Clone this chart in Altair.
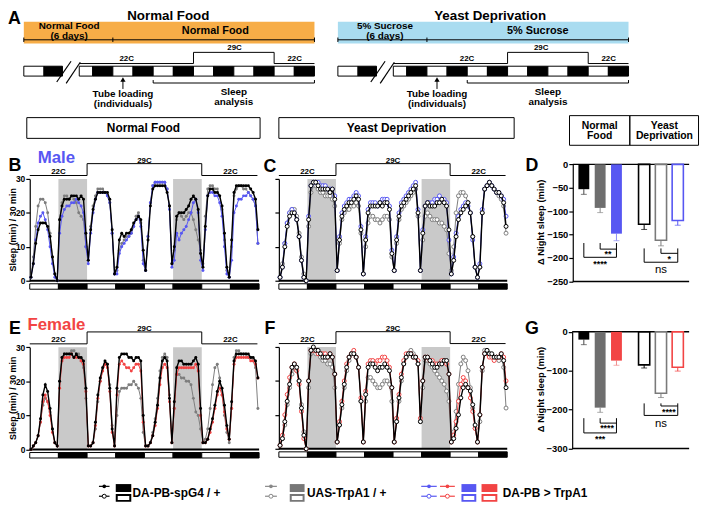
import altair as alt
import pandas as pd

M = 8  # page margin of the html page
FONT = "Liberation Sans"

# ---------------------------------------------------------------- data
GENOTYPES = ["DA-PB-spG4 / +", "UAS-TrpA1 / +", "DA-PB > TrpA1"]
CONDITIONS = ["Normal Food", "Yeast Deprivation"]
HOURS = [h + 0.5 for h in range(96)]            # 4 days, hourly bins (ZT)
LD_PHASES = [(12 * k, 12 * k + 12, "light" if k % 2 == 0 else "dark") for k in range(8)]
SHADED_NIGHTS = [(12, 24), (60, 72)]
TEMP_PROFILE = [(0, 22), (24, 29), (72, 22), (95.3, 22)]
TEMP_LABELS = [(12, 22), (48, 29), (84, 22)]

# sleep (min / 30 min), male, normal food (B)
B_CTRL = [1,5,11,15,17,17,17,16,13,7,2,0, 18,22,24,24,24,25,25,25,24,25,24,14,
          6,15,21,24,26,26,26,26,26,24,15,2, 4,12,14,13,14,14,15,17,18,19,18,9,
          3,12,22,27,28,28,28,28,28,26,22,5, 10,19,20,20,20,21,22,24,25,24,21,8,
          4,16,25,27,27,26,26,25,22,14,4,1, 12,26,28,28,28,28,28,28,27,26,24,15]
B_UAS = [1,7,16,22,24,24,23,20,14,7,2,0, 18,23,25,25,24,25,24,23,20,19,18,10,
         6,16,22,25,27,27,27,26,25,23,14,2, 3,9,11,12,13,13,14,16,19,20,17,6,
         3,13,23,28,29,29,29,29,29,27,22,5, 9,18,20,19,18,19,20,20,18,15,12,9,
         5,19,27,28,28,27,27,25,21,12,3,1, 10,25,27,28,28,27,27,26,25,24,22,11]
B_EXP = [1,5,12,17,19,20,18,15,10,5,1,0, 14,19,21,22,22,23,23,24,23,22,20,10,
         5,14,20,24,26,26,26,26,25,23,14,2, 2,8,10,11,12,13,14,16,18,19,16,5,
         3,13,23,28,29,29,29,29,29,27,21,4, 6,14,12,14,15,16,18,20,23,24,20,6,
         3,15,25,26,26,25,25,23,19,10,2,1, 6,20,22,24,24,25,25,26,25,24,22,11]
# male, yeast deprivation (C)
C_CTRL = [1,4,10,16,19,20,20,18,13,6,1,0, 18,28,29,29,28,27,27,27,27,26,27,24,
          3,12,19,21,22,23,23,24,25,24,15,2, 12,20,22,22,22,22,23,22,23,23,21,8,
          3,12,19,22,23,24,25,26,27,28,20,3, 14,22,23,22,22,22,23,23,24,23,22,15,
          2,6,13,18,20,21,22,23,20,13,4,1, 4,20,27,28,29,28,27,26,26,25,23,16]
C_UAS = [1,5,11,17,20,21,21,19,14,7,2,0, 16,26,28,28,27,26,26,25,25,25,24,22,
         3,11,18,20,21,21,22,22,23,22,14,2, 10,17,19,19,18,18,17,18,19,19,18,7,
         3,11,18,21,22,23,24,25,26,27,19,3, 12,19,20,19,18,18,18,17,17,16,15,8,
         3,10,20,25,26,26,25,23,20,13,4,1, 4,20,27,28,29,28,27,26,25,24,22,14]
C_EXP = [1,4,11,17,20,21,20,18,13,6,1,0, 19,28,29,29,29,28,28,28,27,27,27,25,
         3,13,20,22,23,24,24,25,26,25,16,2, 13,21,23,23,23,22,23,24,24,24,22,9,
         3,13,20,23,24,25,26,27,28,29,21,3, 15,22,23,23,23,24,24,25,24,24,23,12,
         2,7,14,19,21,22,23,22,20,12,4,1, 5,21,27,28,29,28,27,26,26,25,24,19]
# female, normal food (E)
E_CTRL = [0,1,2,4,9,16,19,17,12,6,2,1, 20,27,28,28,28,28,27,28,27,27,26,18,
          1,1,2,8,16,21,24,26,25,18,6,1, 18,27,28,28,28,27,27,26,27,27,26,10,
          1,1,2,4,8,13,21,26,27,26,15,2, 14,24,26,26,25,25,25,25,26,27,25,12,
          2,2,3,6,9,13,17,20,18,13,7,3, 14,26,28,28,28,28,28,28,27,27,26,21]
E_UAS = [0,1,2,4,8,13,15,14,11,6,2,1, 20,27,28,28,28,29,29,28,28,26,24,15,
         1,1,2,6,14,20,23,25,25,19,7,1, 10,17,18,18,18,19,19,20,19,18,15,5,
         1,1,2,5,9,15,23,27,28,27,16,2, 12,22,22,21,21,20,20,19,15,11,10,6,
         2,3,6,12,19,24,25,21,16,10,5,2, 12,27,29,29,28,28,28,27,27,26,24,12]
E_EXP = [0,1,2,4,8,14,16,14,10,5,2,1, 18,26,27,27,27,28,27,27,27,26,25,17,
         1,1,2,7,15,20,23,25,24,17,5,1, 16,25,26,25,24,24,23,24,25,25,23,8,
         1,1,2,4,7,12,19,24,25,24,14,2, 12,22,24,24,24,24,24,24,24,25,23,10,
         2,2,3,5,8,12,16,18,16,11,6,3, 12,25,27,27,27,27,27,27,26,26,25,21]
# female, yeast deprivation (F)
F_CTRL = [1,3,8,14,19,24,25,24,20,12,4,0, 20,29,30,29,29,28,27,27,27,28,27,22,
          2,7,13,19,24,27,28,28,27,24,14,2, 16,24,25,25,24,23,24,24,25,24,23,18,
          2,8,15,21,25,27,28,28,27,27,25,8, 20,27,27,26,25,24,24,25,25,26,26,22,
          2,3,6,10,15,18,19,18,17,13,7,2, 10,24,28,29,28,28,27,27,27,28,26,18]
F_UAS = [1,3,7,13,18,22,24,23,20,13,5,0, 18,28,29,28,28,27,26,26,25,25,24,18,
         2,7,12,18,23,26,28,28,27,24,14,2, 14,21,21,20,19,18,18,19,20,20,19,14,
         2,8,14,20,25,27,28,29,28,27,25,8, 18,26,26,25,24,23,22,21,20,19,17,14,
         2,5,11,19,25,27,26,23,18,12,6,2, 8,23,29,29,28,27,27,27,26,27,24,12]
F_EXP = [1,4,10,16,21,24,25,23,19,11,3,0, 20,29,29,29,28,28,28,28,27,28,27,22,
         2,8,14,20,25,27,28,29,27,24,15,2, 17,25,26,26,25,26,26,27,27,26,24,18,
         2,9,16,22,26,28,28,28,27,27,26,9, 20,27,27,26,26,25,25,25,26,26,25,22,
         2,4,8,14,19,21,20,18,15,11,6,2, 10,24,28,28,27,27,26,27,27,28,27,20]

# delta night sleep (min): mean and SEM per genotype
D_NF_MEAN = [-53, -93, -148]
D_NF_SEM = [11, 10, 15]
D_YD_MEAN = [-128, -162, -120]
D_YD_SEM = [11, 12, 10]
G_NF_MEAN = [-20, -195, -74]
G_NF_SEM = [13, 12, 12]
G_YD_MEAN = [-85, -158, -91]
G_YD_SEM = [8, 11, 10]
D_SIG = {"nf": ("****", "**"), "yd": ("ns", "*")}
G_SIG = {"nf": ("***", "****"), "yd": ("ns", "****")}

# ---------------------------------------------------------------- styles
C_BLACK = "#000000"
C_GRAY = "#6e6e6e"
C_GRAY_LINE = "#7d7d7d"
C_BLUE = "#5757f2"
C_RED = "#f24444"
C_SHADE = "#c9c9c9"
C_ORANGE = "#f7ad47"
C_SKY = "#a9dcf0"


def S(domain, r0, r1):
    return alt.Scale(domain=domain, range=[r0 - M, r1 - M], nice=False, zero=False)


def XQ(f, s, axis=None):
    return alt.X(f, type="quantitative", scale=s, axis=axis)


def YQ(f, s, axis=None):
    return alt.Y(f, type="quantitative", scale=s, axis=axis)


PX = S([0, 708], 0, 708)
PY = S([0, 506], 0, 506)


def texts(rows, xs, ys, size, color="black", weight="bold", angle=0, align="center", dx=0, dy=0):
    df = pd.DataFrame(rows, columns=["x", "y", "label"])
    return alt.Chart(df).mark_text(font=FONT, fontSize=size, color=color, fontWeight=weight, angle=angle,
                                   align=align, baseline="middle", dx=dx, dy=dy).encode(
        x=XQ("x", xs), y=YQ("y", ys), text="label:N")


def rules(rows, xs, ys, color="black", width=1.0):
    df = pd.DataFrame(rows, columns=["x", "x2", "y", "y2"])
    return alt.Chart(df).mark_rule(color=color, strokeWidth=width).encode(
        x=XQ("x", xs), x2="x2", y=YQ("y", ys), y2="y2")


def rects(rows, xs, ys, fill, stroke="black", width=0.0):
    df = pd.DataFrame(rows, columns=["x", "x2", "y", "y2"])
    return alt.Chart(df).mark_rect(fill=fill, stroke=stroke, strokeWidth=width).encode(
        x=XQ("x", xs), x2="x2", y=YQ("y", ys), y2="y2")


LAYERS = []

# ---------------------------------------------------------------- panel A schematics
PRE_PHASES = [(-53, -41, "light"), (-41, -30, "dark"), (-20, -12, "light"), (-12, 0, "dark")]
MAIN_PHASES = [(12 * k, 12 * k + 12, "light" if k % 2 == 0 else "dark") for k in range(10)]
AY = 4  # vertical shift of panel A (top 8 px of the page cannot be drawn on)


def schematic(x0, x1, title, title_h, band_color, lbl_pre, lbl_main, pre_h, main_h, t22a, t29, t22b):
    xs = S([-53, 120], x0, x1)
    out = [rects([(-53, 120, 15 + AY, 37 + AY)], xs, PY, band_color)]
    out.append(texts([(pre_h, 19 + AY, lbl_pre), (pre_h, 29 + AY, "(6 days)")], xs, PY, 10))
    out.append(texts([(main_h, 24.5 + AY, lbl_main)], xs, PY, 11))
    out.append(rules([(-53, 120, 33.3 + AY, 33.3 + AY), (-53, -53, 31 + AY, 35.5 + AY), (0, 0, 31 + AY, 35.5 + AY),
                      (120, 120, 31 + AY, 35.5 + AY)], xs, PY, width=1))
    lo, hi = 57.3 + AY, 46 + AY
    out.append(rules([(-20, 48, lo, lo), (48, 48, lo, hi), (48, 96, hi, hi), (96, 96, hi, lo),
                      (96, 120, lo, lo)], xs, PY, width=1))
    out.append(texts([(t22a, 52.7 + AY, "22C"), (t29, 42 + AY, "29C"), (t22b, 52.7 + AY, "22C")], xs, PY, 8))
    ph = pd.DataFrame([(a, b, 60 + AY, 70 + AY, p) for a, b, p in PRE_PHASES + MAIN_PHASES],
                      columns=["x", "x2", "y", "y2", "phase"])
    out.append(alt.Chart(ph).mark_rect(stroke="black", strokeWidth=1).encode(
        x=XQ("x", xs), x2="x2", y=YQ("y", PY), y2="y2",
        fill=alt.condition(alt.datum.phase == "light", alt.value("white"), alt.value("black"))))
    out.append(rules([(-33.4, -24.9, 76 + AY, 55 + AY), (-27.8, -19.4, 77.3 + AY, 56 + AY)], xs, PY, width=1.2))
    out.append(rules([(6, 6, 74 + AY, 83 + AY), (24, 120, 77 + AY, 77 + AY), (24, 24, 74 + AY, 77 + AY),
                      (120, 120, 74 + AY, 77 + AY)], xs, PY))
    arrow = pd.DataFrame({"x": [6], "y": [73.5 + AY]})
    out.append(alt.Chart(arrow).mark_point(shape="triangle-up", filled=True, color="black", size=28,
                                           opacity=1).encode(x=XQ("x", xs), y=YQ("y", PY)))
    out.append(texts([(6, 88.5 + AY, "Tube loading"), (6, 98.5 + AY, "(individuals)"), (72, 86.5 + AY, "Sleep"),
                      (72, 96.5 + AY, "analysis")], xs, PY, 10))
    out.append(texts([(title_h, 13.6, title)], xs, PY, 13.5))
    return out


LAYERS += schematic(24, 318, "Normal  Food", 33, C_ORANGE, "Normal Food", "Normal Food", -26, 61, 8.2, 72.4, 108.2)
LAYERS += schematic(341.7, 635.7, "Yeast  Deprivation", 37.6, C_SKY, "5% Sucrose", "5% Sucrose", -25, 66, 23.9, 68, 108.2)

# ---------------------------------------------------------------- header boxes / labels
LAYERS.append(rects([(27, 263, 116, 137), (282, 520, 116, 137), (576, 637, 114, 144), (637, 706.5, 114, 144)],
                    PX, PY, "transparent", "black", 1))
LAYERS.append(texts([(145, 127, "Normal Food"), (401, 127, "Yeast Deprivation")], PX, PY, 12))
LAYERS.append(texts([(606.5, 124.5, "Normal"), (606.5, 135, "Food"), (672, 124.5, "Yeast"),
                     (672, 135, "Deprivation")], PX, PY, 10.5))
LAYERS.append(texts([(14.5, 16, "A"), (15, 165, "B"), (273, 166, "C"), (538, 165, "D"),
                     (15, 330, "E"), (273, 330, "F"), (538, 330, "G")], PX, PY, 18))
LAYERS.append(texts([(57, 156.5, "Male")], PX, PY, 17, color=C_BLUE))
LAYERS.append(texts([(57, 326, "Female")], PX, PY, 17, color=C_RED))
LAYERS.append(texts([(12.8, 229.5, "Sleep (min) / 30 min"), (12.8, 400, "Sleep (min) / 30 min")],
                    PX, PY, 9, angle=270))
LAYERS.append(texts([(547, 222, "\u0394 Night sleep (min)"), (547, 391, "\u0394 Night sleep (min)")],
                    PX, PY, 9.5, angle=270))

# ---------------------------------------------------------------- sleep traces
TEMP_LEVEL = {22: 31.0, 29: 34.5}
TEMP_TEXT = {22: 32.0, 29: 35.3}


def trace_panel(series, exp_color, hollow, xr, yr, labels):
    xs = S([0, 96], *xr)
    ys = S([0, 30], *yr)
    out = []
    yaxis = alt.Axis(orient="left", offset=-(xr[0] - M), values=[0, 10, 20, 30], labels=labels,
                     title=None, tickSize=4, labelFontSize=8.5)
    shade = pd.DataFrame([(a, b, 0, 30) for a, b in SHADED_NIGHTS], columns=["x", "x2", "y", "y2"])
    out.append(alt.Chart(shade).mark_rect(fill=C_SHADE).encode(
        x=XQ("x", xs), x2="x2", y=YQ("y", ys, yaxis), y2="y2"))
    segs = []
    for (t0, c0), (t1, c1) in zip(TEMP_PROFILE[:-1], TEMP_PROFILE[1:]):
        segs.append((t0, t1, TEMP_LEVEL[c0], TEMP_LEVEL[c0]))
        if c1 != c0:
            segs.append((t1, t1, TEMP_LEVEL[c0], TEMP_LEVEL[c1]))
    out.append(rules(segs, xs, ys, width=1))
    out.append(texts([(t, TEMP_TEXT[c], f"{c}C") for t, c in TEMP_LABELS], xs, ys, 8))
    ld = pd.DataFrame([(a, b, -0.9, -2.5, p) for a, b, p in LD_PHASES], columns=["x", "x2", "y", "y2", "phase"])
    out.append(alt.Chart(ld).mark_rect(stroke="black", strokeWidth=1).encode(
        x=XQ("x", xs), x2="x2", y=YQ("y", ys), y2="y2",
        fill=alt.condition(alt.datum.phase == "light", alt.value("white"), alt.value("black"))))
    out.append(rules([(0, 96, 0, 0)], xs, ys, width=2))
    ctrl, uas, exp = series
    for vals, col, lw in ((uas, C_GRAY_LINE, 1.0), (exp, exp_color, 1.0), (ctrl, C_BLACK, 1.4)):
        base = alt.Chart(pd.DataFrame({"t": HOURS, "v": vals})).encode(x=XQ("t", xs), y=YQ("v", ys))
        out.append(base.mark_line(color=col, strokeWidth=lw))
        if hollow:
            out.append(base.mark_point(shape="circle", filled=True, fill="white", stroke=col,
                                       strokeWidth=1, size=16, opacity=1))
        else:
            out.append(base.mark_circle(color=col, size=9, opacity=1))
    return out


LAYERS += trace_panel((B_CTRL, B_UAS, B_EXP), C_BLUE, False, (30, 262), (281, 178), True)
LAYERS += trace_panel((C_CTRL, C_UAS, C_EXP), C_BLUE, True, (282, 513), (281, 178), False)
LAYERS += trace_panel((E_CTRL, E_UAS, E_EXP), C_RED, False, (30, 262), (451.7, 348.3), True)
LAYERS += trace_panel((F_CTRL, F_UAS, F_EXP), C_RED, True, (282, 513), (451, 348), False)

# ---------------------------------------------------------------- bar panels


def bar_group(mean, sem, filled, colors, err_colors, ys, band_r, pt_r, sig, levels):
    band = alt.Scale(type="band", domain=GENOTYPES, range=[band_r[0] - M, band_r[1] - M],
                     paddingInner=1 / 3, paddingOuter=1 / 6)
    pt = alt.Scale(type="point", domain=GENOTYPES, range=[pt_r[0] - M, pt_r[1] - M], padding=0)
    df = pd.DataFrame({"g": GENOTYPES, "m": mean, "s": sem})
    df["lo"] = df["m"] - df["s"]
    df["zero"] = 0
    out = []
    cs = alt.Scale(domain=GENOTYPES, range=colors)
    es = alt.Scale(domain=GENOTYPES, range=err_colors)
    ex = alt.X("g:N", scale=pt, axis=None)
    out.append(alt.Chart(df).mark_rule(strokeWidth=1).encode(
        x=ex, y=YQ("m", ys), y2="lo", color=alt.Color("g:N", scale=es, legend=None)))
    out.append(alt.Chart(df).mark_tick(size=6, thickness=1).encode(
        x=ex, y=YQ("lo", ys), color=alt.Color("g:N", scale=es, legend=None)))
    bx = alt.X("g:N", scale=band, axis=None)
    if filled:
        out.append(alt.Chart(df).mark_bar().encode(
            x=bx, y=YQ("m", ys), y2="zero", color=alt.Color("g:N", scale=cs, legend=None)))
    else:
        out.append(alt.Chart(df).mark_bar(fill="white", strokeWidth=1.6).encode(
            x=bx, y=YQ("m", ys), y2="zero", stroke=alt.Stroke("g:N", scale=cs, legend=None)))
    top, inner, outer, t_in, t_out, dx_in = levels
    g0, g1, g2 = GENOTYPES
    br = pd.DataFrame([(g0, g0, top, outer), (g0, g2, outer, outer), (g1, g1, top, inner),
                       (g1, g2, inner, inner), (g2, g2, top, outer)], columns=["a", "b", "y", "y2"])
    out.append(alt.Chart(br).mark_rule(color="black", strokeWidth=1).encode(
        x=alt.X("a:N", scale=pt, axis=None), x2="b", y=YQ("y", ys), y2="y2"))
    for lab, yv, g, dx in ((sig[0], t_out, g1, 0), (sig[1], t_in, g1, dx_in)):
        tdf = pd.DataFrame({"g": [g], "y": [yv], "label": [lab]})
        ns = lab == "ns"
        out.append(alt.Chart(tdf).mark_text(font=FONT, fontSize=11.5 if ns else 9,
                                            fontWeight="normal" if ns else "bold",
                                            color="black", baseline="middle", dx=dx, dy=1 if ns else 1).encode(
            x=alt.X("g:N", scale=pt, axis=None), y=YQ("y", ys), text="label:N"))
    return out


def bar_panel(nf_mean, nf_sem, yd_mean, yd_sem, exp_col, exp_err, yr, ymin, step, ax_x, sig, lv_nf, lv_yd):
    ys = S([ymin, 0], *yr)
    fx = S([0, 1], ax_x, 697)
    yaxis = alt.Axis(orient="left", offset=-(ax_x - M), values=list(range(0, ymin - 1, -step)),
                     title=None, tickSize=4, labelFontSize=9.5)
    frame = pd.DataFrame({"x": [0, 0], "x2": [1, 1], "y": [0, ymin]})
    out = [alt.Chart(frame).mark_rule(color="black", strokeWidth=1.5).encode(
        x=XQ("x", fx), x2="x2", y=YQ("y", ys, yaxis))]
    out += bar_group(nf_mean, nf_sem, True, [C_BLACK, C_GRAY, exp_col], ["#444444", "#8a8a8a", exp_err],
                     ys, (582.25, 631.75), (590.5, 623.5), sig["nf"], lv_nf)
    out += bar_group(yd_mean, yd_sem, False, [C_BLACK, "#7a7a7a", exp_col], [C_BLACK, "#7a7a7a", exp_col],
                     ys, (643, 694), (651.5, 685.5), sig["yd"], lv_yd)
    return out


LAYERS += bar_panel(D_NF_MEAN, D_NF_SEM, D_YD_MEAN, D_YD_SEM, C_BLUE, "#8c8cf5", (281.7, 163.3), -250, 50, 579.3,
                    D_SIG, (-168, -181, -198.5, -189, -210, 8), (-179.5, -190, -209, -200, -223, 8.5))
LAYERS += bar_panel(G_NF_MEAN, G_NF_SEM, G_YD_MEAN, G_YD_SEM, C_RED, "#f08a8a", (450.7, 332.7), -300, 100, 578.7,
                    G_SIG, (-222, -234.7, -260, -244, -272, 7), (-184, -190.7, -215, -202.5, -234, 8))

# ---------------------------------------------------------------- legend
LEG_LINES = [(C_BLACK, 100, 110.7), ("#888888", 268, 280), (C_BLUE, 426, 441.7), (C_RED, 445, 460)]
LEG_BOXES = [(C_BLACK, 117, 132.7), ("#777777", 293, 308), (C_BLUE, 466.7, 481.7), (C_RED, 487, 503)]
LEG_TEXT = [(134, GENOTYPES[0]), (310.5, GENOTYPES[1]), (508.5, GENOTYPES[2])]

for col, a, b in LEG_LINES:
    LAYERS.append(rules([(a, b, 489, 489), (a, b, 499, 499)], PX, PY, color=col, width=1.2))
    p = pd.DataFrame({"x": [(a + b) / 2], "y": [489]})
    LAYERS.append(alt.Chart(p).mark_circle(color=col, size=14, opacity=1).encode(x=XQ("x", PX), y=YQ("y", PY)))
    p2 = pd.DataFrame({"x": [(a + b) / 2], "y": [499]})
    LAYERS.append(alt.Chart(p2).mark_point(shape="circle", filled=True, fill="white", stroke=col, strokeWidth=1,
                                           size=16, opacity=1).encode(x=XQ("x", PX), y=YQ("y", PY)))
for col, a, b in LEG_BOXES:
    LAYERS.append(rects([(a, b, 486.7, 494.7)], PX, PY, col))
    LAYERS.append(rects([(a + 1, b - 1, 497.7, 503.7)], PX, PY, "white", col, 2))
LAYERS.append(texts([(x, 495.7, t) for x, t in LEG_TEXT], PX, PY, 12, align="left"))

# ---------------------------------------------------------------- assemble
chart = alt.layer(*LAYERS).resolve_scale(
    x="independent", y="independent", color="independent", stroke="independent"
).properties(
    width=700, height=498, autosize=alt.AutoSizeParams(type="none"), padding=0, background="white"
).configure_view(stroke=None).configure_axis(
    grid=False, domainColor="black", tickColor="black", labelColor="black", labelFont=FONT,
    labelFontWeight="bold", labelPadding=1, domainWidth=1.2, tickWidth=1.2
)

chart.save("out.html", embed_options={"renderer": "svg", "actions": False})
